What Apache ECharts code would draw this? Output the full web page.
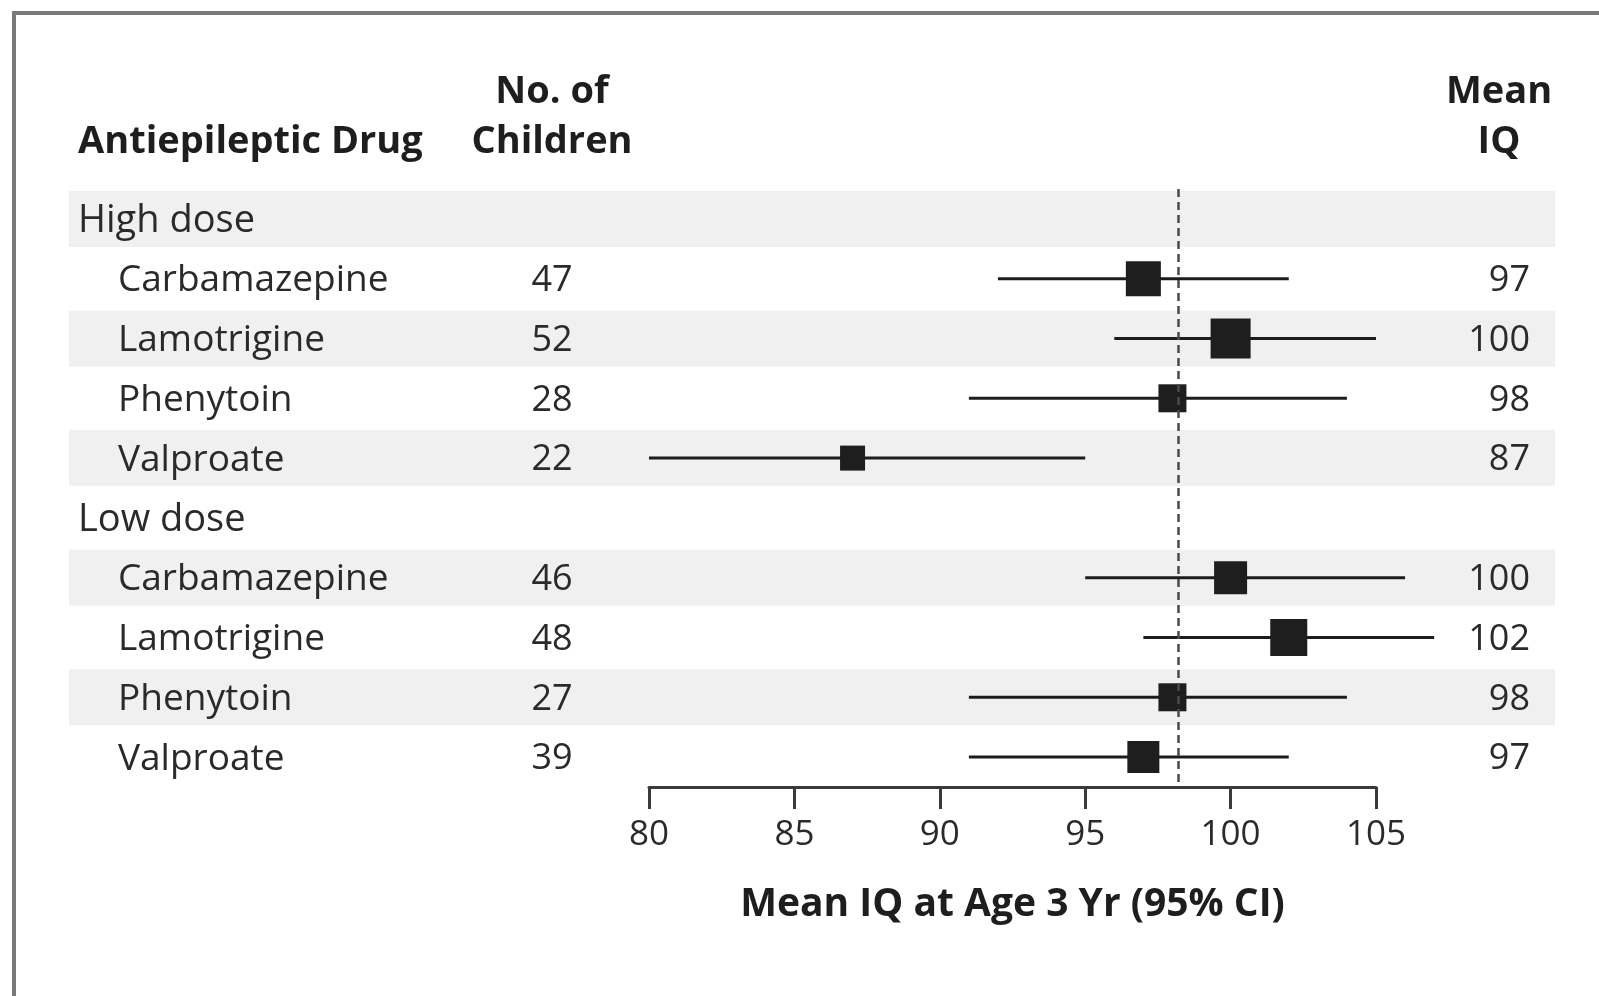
<!DOCTYPE html>
<html>
<head>
<meta charset="utf-8">
<script src="https://cdn.jsdelivr.net/npm/echarts@6/dist/echarts.min.js"></script>
<style>
html,body{margin:0;padding:0;background:#fff;}
#chart{width:1599px;height:996px;}
</style>
</head>
<body>
<div id="chart"></div>
<script>
// ---- data ----
const rowLabels = ['High dose','Carbamazepine','Lamotrigine','Phenytoin','Valproate','Low dose','Carbamazepine','Lamotrigine','Phenytoin','Valproate'];
const isGroupRow = [true,false,false,false,false,true,false,false,false,false];
const nChildren = [null,47,52,28,22,null,46,48,27,39];
const meanIQ = [null,97,100,98,87,null,100,102,98,97];
const ciLow = [null,92,96,91,80,null,95,97,91,91];
const ciHigh = [null,102,105,104,95,null,106,107,104,102];
const weightSize = [null,35,40,28,25,null,33,37,28,32];
const shadedRow = [1,0,1,0,1,0,1,0,1,0];
const referenceIQ = 98.2;
const xMin = 80, xMax = 105, xStep = 5;
const axisTitle = 'Mean IQ at Age 3 Yr (95% CI)';

// ---- build ----
const FONT = '"Open Sans", "Noto Sans", sans-serif';
const rowKeys = rowLabels.map((_, i) => String(i));

const pointData = [], ciData = [];
meanIQ.forEach((v, i) => {
  if (v == null) return;
  pointData.push([v, i, weightSize[i]]);
  ciData.push([ciLow[i], ciHigh[i], i]);
});

const chart = echarts.init(document.getElementById('chart'), null, {renderer: 'canvas'});
const HFONT = 'bold 38px ' + FONT;
const numRich = {n: {fontSize: 36, fontFamily: FONT, color: '#2a2a2a', padding: [4, 0, 0, 0]}};

const option = {
  backgroundColor: '#ffffff',
  animation: false,
  graphic: [
    {type: 'rect', shape: {x: 14, y: 13, width: 1700, height: 1100}, style: {fill: 'none', stroke: '#7a7a7a', lineWidth: 4}, z: 100, silent: true},
    {type: 'text', x: 78, y: 142, style: {text: 'Antiepileptic Drug', font: HFONT, fill: '#1e1e1e', align: 'left', verticalAlign: 'middle'}},
    {type: 'text', x: 552, y: 92, style: {text: 'No. of', font: HFONT, fill: '#1e1e1e', align: 'center', verticalAlign: 'middle'}},
    {type: 'text', x: 552, y: 142, style: {text: 'Children', font: HFONT, fill: '#1e1e1e', align: 'center', verticalAlign: 'middle'}},
    {type: 'text', x: 1499, y: 92, style: {text: 'Mean', font: HFONT, fill: '#1e1e1e', align: 'center', verticalAlign: 'middle'}},
    {type: 'text', x: 1499, y: 142, style: {text: 'IQ', font: HFONT, fill: '#1e1e1e', align: 'center', verticalAlign: 'middle'}}
  ],
  grid: [
    {left: 649, right: 223, top: 189, bottom: 209},
    {left: 69, right: 44, top: 189, bottom: 209}
  ],
  xAxis: [
    {
      type: 'value', gridIndex: 0, min: xMin, max: xMax, interval: xStep,
      axisLine: {show: true, lineStyle: {color: '#3a3a3a', width: 3}},
      axisTick: {show: true, length: 22, lineStyle: {color: '#3a3a3a', width: 3}},
      axisLabel: {margin: 31, fontSize: 35, color: '#2a2a2a', fontFamily: FONT},
      splitLine: {show: false},
      name: axisTitle, nameLocation: 'middle', nameGap: 98,
      nameTextStyle: {fontSize: 39, fontWeight: 'bold', color: '#1e1e1e', fontFamily: FONT}
    },
    {type: 'value', gridIndex: 1, min: 0, max: 1, show: false}
  ],
  yAxis: [
    {type: 'category', gridIndex: 0, data: rowKeys, inverse: true, show: false},
    {
      type: 'category', gridIndex: 1, data: rowKeys, inverse: true, position: 'left',
      axisLine: {show: false}, axisTick: {show: false}, splitLine: {show: false},
      axisLabel: {
        inside: true, margin: 9, align: 'left', fontFamily: FONT, fontSize: 37, color: '#2a2a2a',
        formatter: (v, i) => isGroupRow[i] ? '{g|' + rowLabels[i] + '}' : '{d|' + rowLabels[i] + '}',
        rich: {
          g: {fontSize: 38, fontFamily: FONT, color: '#2a2a2a', padding: [4, 0, 0, 0]},
          d: {fontSize: 37, fontFamily: FONT, color: '#2a2a2a', padding: [4, 0, 0, 40]}
        }
      }
    },
    {
      type: 'category', gridIndex: 1, data: rowKeys, inverse: true, position: 'left',
      axisLine: {show: false}, axisTick: {show: false}, splitLine: {show: false},
      axisLabel: {
        inside: true, margin: 483, align: 'center', fontFamily: FONT, fontSize: 36, color: '#2a2a2a',
        rich: numRich,
        formatter: (v, i) => nChildren[i] == null ? '' : '{n|' + nChildren[i] + '}'
      }
    },
    {
      type: 'category', gridIndex: 1, data: rowKeys, inverse: true, position: 'right',
      axisLine: {show: false}, axisTick: {show: false}, splitLine: {show: false},
      axisLabel: {
        inside: true, margin: 25, align: 'right', fontFamily: FONT, fontSize: 36, color: '#2a2a2a',
        rich: numRich,
        formatter: (v, i) => meanIQ[i] == null ? '' : '{n|' + meanIQ[i] + '}'
      }
    }
  ],
  series: [
    {
      type: 'bar', xAxisIndex: 1, yAxisIndex: 1, data: shadedRow.map(s => s ? 1 : '-'),
      barWidth: 56, itemStyle: {color: '#f0f0f0'}, silent: true, z: 0
    },
    {
      type: 'custom', xAxisIndex: 0, yAxisIndex: 0, data: ciData, z: 3,
      encode: {x: [0, 1], y: 2},
      renderItem: function (params, api) {
        const a = api.coord([api.value(0), api.value(2)]);
        const b = api.coord([api.value(1), api.value(2)]);
        return {type: 'line', shape: {x1: a[0], y1: a[1], x2: b[0], y2: b[1]}, style: {stroke: '#1c1c1c', lineWidth: 3}};
      },
      silent: true
    },
    {
      type: 'scatter', xAxisIndex: 0, yAxisIndex: 0, data: pointData, z: 4,
      symbol: 'rect', symbolSize: v => v[2],
      itemStyle: {color: '#1e1e1e', opacity: 1},
      markLine: {
        silent: true, symbol: 'none', label: {show: false},
        lineStyle: {color: '#4a4a4a', width: 2.5, type: [8, 5]},
        data: [{xAxis: referenceIQ}]
      }
    }
  ]
};
chart.setOption(option);
</script>
</body>
</html>
